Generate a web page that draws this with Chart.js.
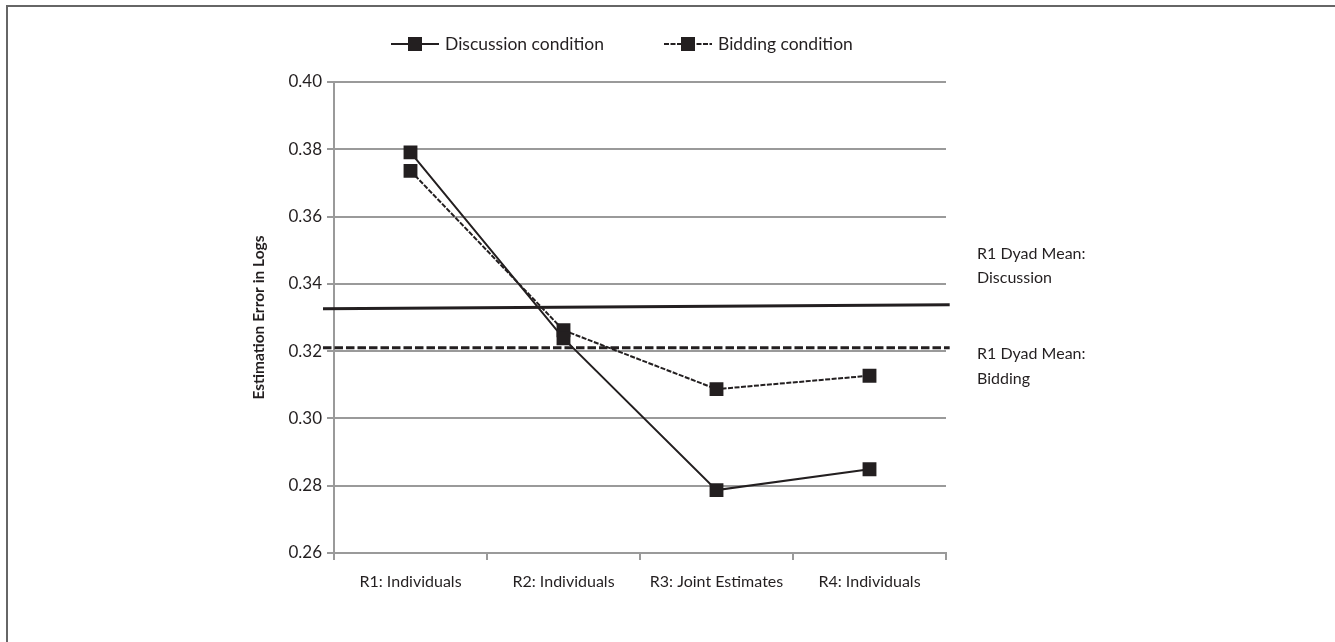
<!DOCTYPE html>
<html>
<head>
<meta charset="utf-8">
<script src="https://cdn.jsdelivr.net/npm/chart.js@4"></script>
<style>
    html, body { margin: 0; padding: 0; background: #fff; overflow: hidden; }
    #frame { position: absolute; left: 6px; top: 5px; width: 1400px; height: 700px;
             border-top: 2px solid #666; border-left: 2px solid #666; }
    #wrap { position: absolute; left: 0; top: 0; width: 1335px; height: 642px; }
</style>
</head>
<body>
<div id="frame"></div>
<div id="wrap"><canvas id="chart"></canvas></div>
<script>
// chart data
const categories = ['R1: Individuals', 'R2: Individuals', 'R3: Joint Estimates', 'R4: Individuals'];
const discussionValues = [0.3791, 0.3238, 0.2787, 0.2849];
const biddingValues = [0.3736, 0.3262, 0.3087, 0.3127];

// R1 dyad mean reference lines (start / end along the plot width)
const meanSpan = [-0.018, 1.006];
const discussionMean = [0.3326, 0.3338];
const biddingMean = [0.3210, 0.3210];

const yMin = 0.26;
const yMax = 0.40;
const yStep = 0.02;

const ink = '#231f20';
const gridGray = '#9a9a9a';

function meanPoints(values) {
    return meanSpan.map((x, i) => ({ x: x, y: values[i] }));
}

// legend with line + square icons, drawn at the top
const legendPlugin = {
    id: 'lineLegend',
    afterDraw(chart) {
        const ctx = chart.ctx;
        const items = [
            { ds: chart.data.datasets[0], x: 391 },
            { ds: chart.data.datasets[1], x: 664 }
        ];
        const y = 44;
        items.forEach(item => {
            const ds = item.ds;
            ctx.save();
            ctx.strokeStyle = ds.borderColor;
            ctx.lineWidth = ds.borderWidth;
            ctx.setLineDash(ds.borderDash || []);
            ctx.beginPath();
            ctx.moveTo(item.x, y);
            ctx.lineTo(item.x + 48, y);
            ctx.stroke();
            ctx.setLineDash([]);
            ctx.fillStyle = ds.pointBackgroundColor;
            ctx.fillRect(item.x + 24 - 7, y - 7, 14, 14);
            ctx.fillStyle = ink;
            ctx.font = '17.5px Lato';
            ctx.textBaseline = 'middle';
            ctx.fillText(ds.label, item.x + 54, y);
            ctx.restore();
        });
    }
};

// text labels to the right of the mean lines
const meanLabelPlugin = {
    id: 'meanLabels',
    afterDraw(chart) {
        const ctx = chart.ctx;
        const x = chart.chartArea.right + 31;
        const dY = chart.getDatasetMeta(2).data[1].y;
        const bY = chart.getDatasetMeta(3).data[1].y;
        ctx.save();
        ctx.fillStyle = ink;
        ctx.font = '16px Lato';
        ctx.textBaseline = 'middle';
        ctx.fillText('R1 Dyad Mean:', x, dY - 51);
        ctx.fillText('Discussion', x, dY - 27);
        ctx.fillText('R1 Dyad Mean:', x, bY + 6);
        ctx.fillText('Bidding', x, bY + 31);
        ctx.restore();
    }
};

const ctx = document.getElementById('chart');

new Chart(ctx, {
    type: 'line',
    data: {
        labels: categories,
        datasets: [
            {
                label: 'Discussion condition',
                data: discussionValues,
                borderColor: ink,
                borderWidth: 2,
                pointStyle: 'rect',
                pointRadius: 9.8,
                pointBorderWidth: 0,
                pointBackgroundColor: ink,
                tension: 0
            },
            {
                label: 'Bidding condition',
                data: biddingValues,
                borderColor: ink,
                borderWidth: 2,
                borderDash: [5, 1.5],
                pointStyle: 'rect',
                pointRadius: 9.8,
                pointBorderWidth: 0,
                pointBackgroundColor: ink,
                tension: 0
            },
            {
                label: 'R1 Dyad Mean: Discussion',
                data: meanPoints(discussionMean),
                xAxisID: 'x2',
                borderColor: ink,
                borderWidth: 3,
                pointRadius: 0,
                clip: false
            },
            {
                label: 'R1 Dyad Mean: Bidding',
                data: meanPoints(biddingMean),
                xAxisID: 'x2',
                borderColor: ink,
                borderWidth: 3,
                borderDash: [8.5, 3],
                pointRadius: 0,
                clip: false
            }
        ]
    },
    options: {
        responsive: true,
        maintainAspectRatio: false,
        animation: false,
        layout: {
            padding: { left: 250, right: 389, top: 82, bottom: 0 }
        },
        plugins: {
            legend: { display: false },
            tooltip: { enabled: false }
        },
        scales: {
            x: {
                type: 'category',
                offset: true,
                grid: {
                    offset: true,
                    drawOnChartArea: false,
                    color: gridGray,
                    lineWidth: 2,
                    tickLength: 7
                },
                border: { color: gridGray, width: 2 },
                ticks: {
                    color: ink,
                    font: { family: 'Lato', size: 16 },
                    padding: 12,
                    maxRotation: 0
                },
                afterFit(scale) { scale.height = 89; }
            },
            x2: {
                type: 'linear',
                display: false,
                min: 0,
                max: 1
            },
            y: {
                min: yMin,
                max: yMax,
                ticks: {
                    stepSize: yStep,
                    color: ink,
                    font: { family: 'Lato', size: 17 },
                    padding: 5,
                    callback: value => value.toFixed(2)
                },
                grid: {
                    color: gridGray,
                    lineWidth: 2,
                    tickLength: 7
                },
                border: { color: gridGray, width: 2 },
                title: {
                    display: true,
                    text: 'Estimation Error in Logs',
                    color: ink,
                    font: { family: 'Lato', size: 15.5, weight: 'bold' },
                    padding: 0
                },
                afterFit(scale) { scale.width = 84; }
            }
        }
    },
    plugins: [legendPlugin, meanLabelPlugin]
});
</script>
</body>
</html>
